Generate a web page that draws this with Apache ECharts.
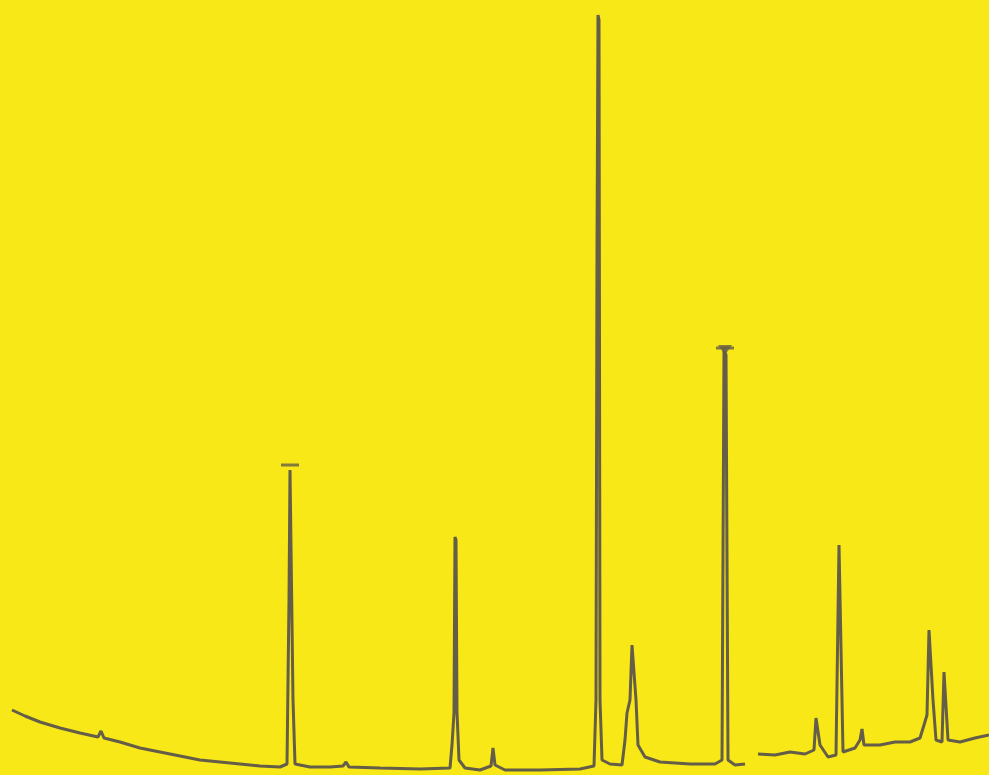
<!DOCTYPE html>
<html>
<head>
<meta charset="utf-8">
<script src="https://cdn.jsdelivr.net/npm/echarts@6/dist/echarts.min.js"></script>
<style>
    html, body { margin: 0; padding: 0; background: #f8e818; }
    #chart { width: 989px; height: 775px; }
</style>
</head>
<body>
<div id="chart"></div>
<script>
// retention position (x) and detector signal (y)
var times = [
    12, 25, 40, 60, 80, 98, 101, 104, 120, 140, 160, 180, 200, 220, 240, 260, 280,
    287, 289, 290, 291, 293, 295, 310, 330, 343, 346, 349, 380, 420, 450,
    452, 454, 455, 456, 457, 459, 465, 480, 491, 493, 495, 505, 540, 580,
    594, 596, 597, 598, 599, 600, 602, 610, 622, 625, 627, 630, 632, 634, 636,
    638, 645, 660, 690, 715, 722, 724, 725, 726, 728, 735, 745,
    750,
    758, 775, 790, 805, 814, 816, 818, 820, 828, 836, 839, 841, 843, 855,
    860, 862, 864, 880, 895, 910, 920, 924, 927, 929, 931, 933, 936, 942,
    944, 946, 948, 960, 975, 989
];
var signal = [
    65, 59, 53, 47, 42, 38, 44, 37, 33, 27, 23, 19, 15, 13, 11, 9, 8,
    11, 175, 305, 303, 75, 11, 8, 8, 9, 13, 8, 7, 6, 7,
    30, 62, 238, 235, 63, 15, 7, 5, 9, 27, 10, 5, 5, 6,
    9, 75, 525, 760, 755, 75, 15, 11, 10, 35, 62, 75, 130, 132, 75,
    30, 18, 13, 11, 11, 15, 425, 427, 420, 15, 10, 11,
    null,
    21, 20, 23, 21, 25, 57, 58, 30, 18, 20, 230, 230, 23, 27,
    35, 46, 30, 30, 33, 33, 37, 50, 60, 145, 147, 75, 35, 33,
    103, 103, 35, 33, 37, 40
];
// pen marks drawn above two peaks
var capTimes = [290, 725];
var capSignal = [310, 427];

var chart = echarts.init(document.getElementById("chart"));

chart.setOption({
    backgroundColor: "#f8e818",
    animation: false,
    grid: { left: 0, right: 0, top: 0, bottom: 0 },
    xAxis: { type: "value", min: 0, max: 989, show: false },
    yAxis: { type: "value", min: 0, max: 775, show: false },
    series: [
        {
            type: "line",
            data: times.map(function(t, i) {
                return [t, signal[i]];
            }),
            showSymbol: false,
            connectNulls: false,
            lineStyle: { color: "#645d47", width: 3 }
        },
        {
            type: "scatter",
            data: capTimes.map(function(t, i) {
                return [t, capSignal[i]];
            }),
            symbol: "rect",
            symbolSize: [18, 3],
            itemStyle: { color: "#645d47" }
        },
        {
            // the second mark is a small down-pointing wedge
            type: "scatter",
            data: [[capTimes[1], capSignal[1] - 2]],
            symbol: "triangle",
            symbolRotate: 180,
            symbolSize: [14, 10],
            itemStyle: { color: "#645d47" }
        }
    ]
});
</script>
</body>
</html>
